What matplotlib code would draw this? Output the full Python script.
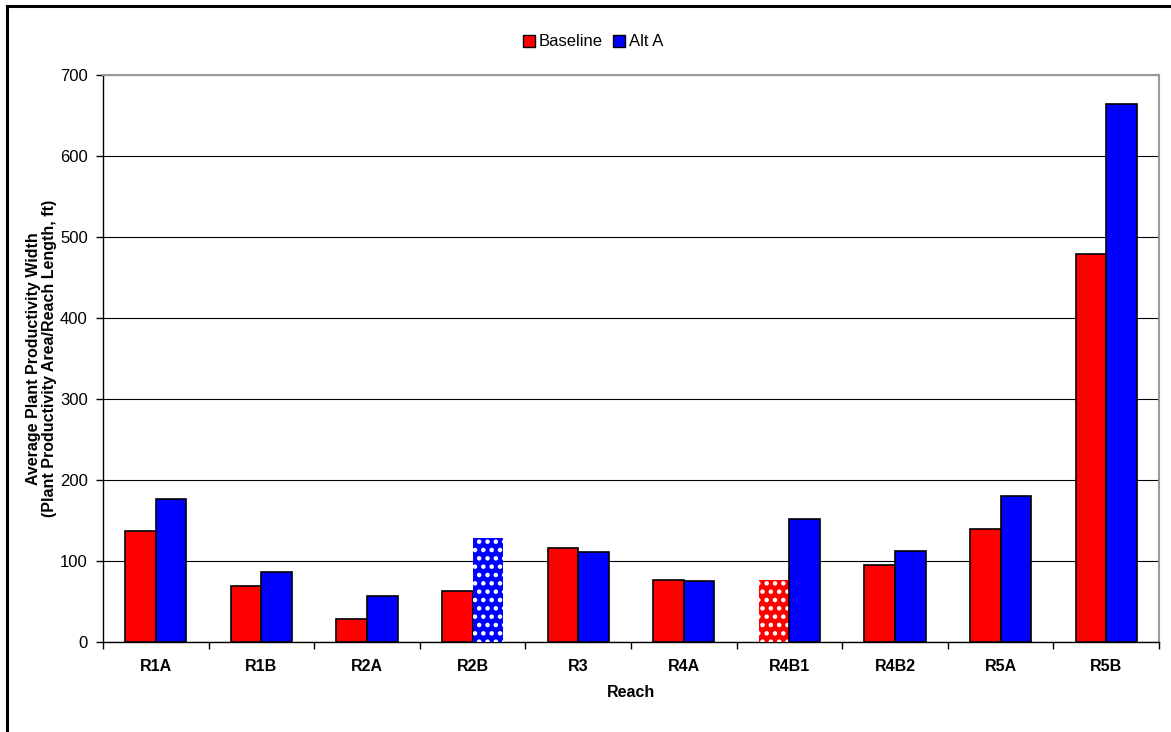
import numpy as np
import matplotlib.pyplot as plt
from matplotlib.lines import Line2D
from matplotlib.patches import Patch

plt.rcParams['font.family'] = ['Liberation Sans', 'DejaVu Sans']
plt.rcParams['hatch.linewidth'] = 2.0

reaches = ['R1A', 'R1B', 'R2A', 'R2B', 'R3', 'R4A', 'R4B1', 'R4B2', 'R5A', 'R5B']
baseline = [137, 69, 28, 63, 116, 76, 77, 95, 139, 479]
alt_a = [176, 86, 57, 129, 111, 75, 152, 112, 180, 664]

# bars drawn with the dotted fill instead of a solid one
dotted_base = ['R4B1']
dotted_alt = ['R2B']

fig = plt.figure(figsize=(11.71, 7.32), dpi=100)
ax = fig.add_axes([103 / 1171, 1 - 642 / 732, 1056 / 1171, 567 / 732])

x = np.arange(len(reaches))
w = 0.29

for i, r in enumerate(reaches):
    if r in dotted_base:
        ax.bar(x[i] - w / 2, baseline[i], w, color='red', edgecolor='white',
               hatch='..', linewidth=0, zorder=3)
    else:
        ax.bar(x[i] - w / 2, baseline[i], w, color='red', edgecolor='black',
               linewidth=1.2, zorder=3)
    if r in dotted_alt:
        ax.bar(x[i] + w / 2, alt_a[i], w, color='blue', edgecolor='white',
               hatch='..', linewidth=0, zorder=3)
    else:
        ax.bar(x[i] + w / 2, alt_a[i], w, color='blue', edgecolor='black',
               linewidth=1.2, zorder=3)

ax.set_xlim(-0.5, len(reaches) - 0.5)
ax.set_ylim(0, 700)
ax.set_yticks(np.arange(0, 701, 100))
ax.yaxis.grid(True, color='black', linewidth=0.8, zorder=0)
ax.set_axisbelow(True)

# ticks sit on the category boundaries, labels in the middle
ax.set_xticks(np.arange(-0.5, len(reaches), 1))
ax.set_xticklabels([])
ax.set_xticks(x, minor=True)
ax.set_xticklabels(reaches, minor=True, fontsize=11.5, fontweight='bold')
ax.tick_params(axis='x', which='minor', length=0, pad=12)
ax.tick_params(axis='x', which='major', length=5, direction='out', width=1)
ax.tick_params(axis='y', length=5, direction='out', labelsize=12, width=1, pad=6)

for s in ['top', 'right']:
    ax.spines[s].set_color('#999999')
    ax.spines[s].set_linewidth(1.5)
ax.spines['left'].set_linewidth(1)
ax.spines['bottom'].set_linewidth(1)

ax.set_xlabel('Reach', fontsize=11.5, fontweight='bold', labelpad=8)
ax.set_ylabel('Average Plant Productivity Width\n(Plant Productivity Area/Reach Length, ft)',
              fontsize=11.5, fontweight='bold', labelpad=2, linespacing=1.1)

handles = [Patch(facecolor='red', edgecolor='black', label='Baseline'),
           Patch(facecolor='blue', edgecolor='black', label='Alt A')]
fig.legend(handles=handles, loc='center', bbox_to_anchor=(593 / 1171, 1 - 42 / 732),
           ncol=2, frameon=False, fontsize=12, handlelength=0.75, handleheight=0.75,
           handletextpad=0.2, columnspacing=0.6)

# outer frame on the left and top edges
fig.add_artist(Line2D([7 / 1171, 7 / 1171], [0, 1 - 5.5 / 732], color='black',
                      linewidth=2.2, transform=fig.transFigure))
fig.add_artist(Line2D([7 / 1171, 1], [1 - 5.5 / 732, 1 - 5.5 / 732], color='black',
                      linewidth=2.2, transform=fig.transFigure))

fig.savefig('out.png', dpi=100)
